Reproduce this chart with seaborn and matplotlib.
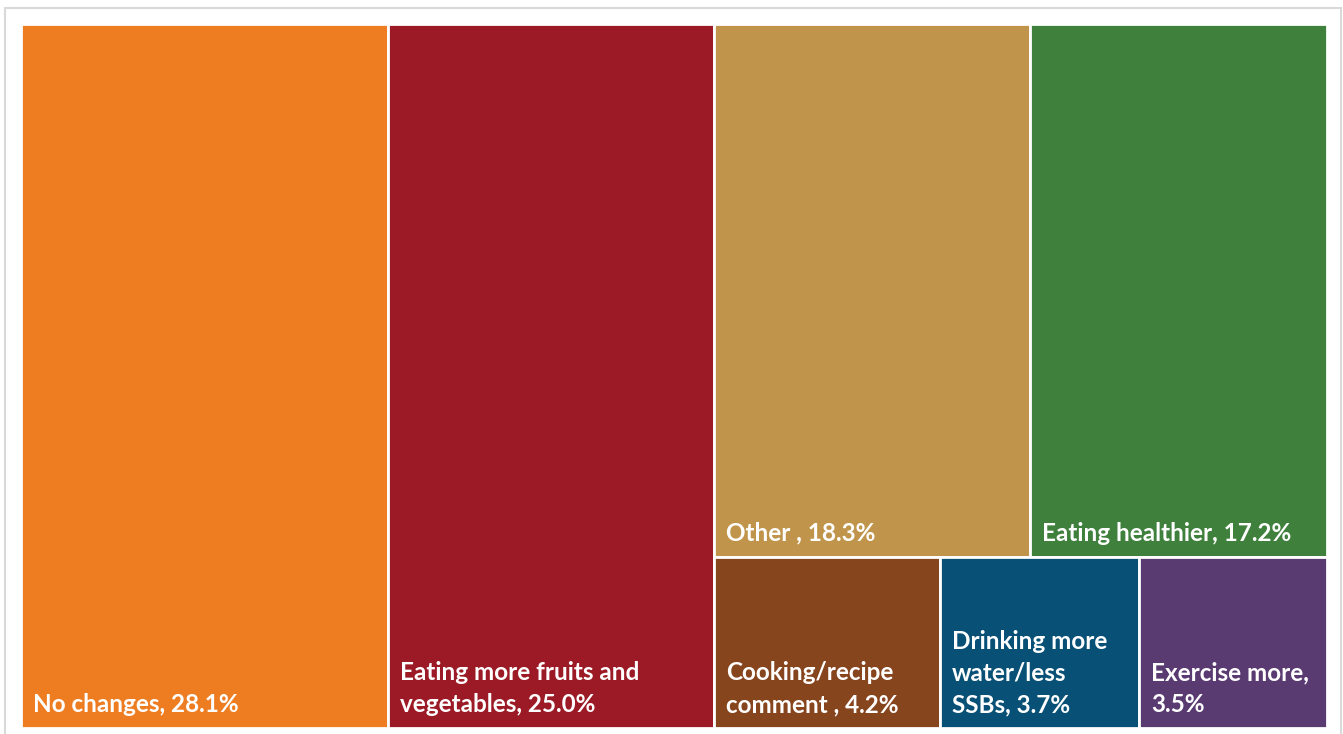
import matplotlib
matplotlib.use("Agg")
import matplotlib.pyplot as plt
from matplotlib.patches import Rectangle
import seaborn as sns

# Share of responses per reported change
categories = [
    "No changes",
    "Eating more fruits and\nvegetables",
    "Other ",
    "Eating healthier",
    "Cooking/recipe\ncomment ",
    "Drinking more\nwater/less\nSSBs",
    "Exercise more",
]
values = [28.1, 25.0, 18.3, 17.2, 4.2, 3.7, 3.5]
label_breaks = ["", "", "", "", "", "", "\n"]
colors = ["#EE7D22", "#9B1A25", "#C0954B", "#3F803D", "#87451E", "#085075", "#593A71"]

# Tile structure: two full-height columns, then the rest split into two rows
columns = [[0], [1], [[2, 3], [4, 5, 6]]]

sns.set_theme(style="white")
plt.rcParams["font.family"] = ["Lato", "DejaVu Sans"]

W, H = 1343, 734
fig = plt.figure(figsize=(W / 100, H / 100), dpi=100)
fig.patch.set_facecolor("white")
fig.add_artist(Rectangle((5 / W, -0.01), 1336 / W, (734 - 8) / H + 0.01,
                         transform=fig.transFigure, fill=False,
                         edgecolor="#D9D9D9", linewidth=1.5))

ax = fig.add_axes([21 / W, 6 / H, 1306 / W, 704 / H])
ax.set_xlim(0, 100)
ax.set_ylim(0, 100)
ax.axis("off")

total = sum(values)
tiles = {}
x0 = 0.0
for col in columns:
    if isinstance(col[0], list):
        col_sum = sum(values[i] for row in col for i in row)
        width = 100 * col_sum / total
        y_top = 100.0
        for row in col:
            row_sum = sum(values[i] for i in row)
            height = 100 * row_sum / col_sum
            xx = x0
            for i in row:
                w = width * values[i] / row_sum
                tiles[i] = (xx, y_top - height, w, height)
                xx += w
            y_top -= height
    else:
        i = col[0]
        width = 100 * values[i] / total
        tiles[i] = (x0, 0.0, width, 100.0)
    x0 += width

order = sorted(tiles)
ax.bar([tiles[i][0] for i in order], [tiles[i][3] for i in order],
       width=[tiles[i][2] for i in order], bottom=[tiles[i][1] for i in order],
       align="edge", color=[colors[i] for i in order],
       edgecolor="white", linewidth=2)

pad_x = 12 / 1306 * 100
pad_y = 12 / 704 * 100
for i in order:
    x, y, w, h = tiles[i]
    sep = "," + (label_breaks[i] if label_breaks[i] else " ")
    text = f"{categories[i]}{sep}{values[i]:.1f}%"
    ax.text(x + pad_x, y + pad_y, text, ha="left", va="bottom",
            color="white", fontsize=17.5, fontweight="bold",
            linespacing=1.45)

fig.savefig("out.png", dpi=100, facecolor="white")
